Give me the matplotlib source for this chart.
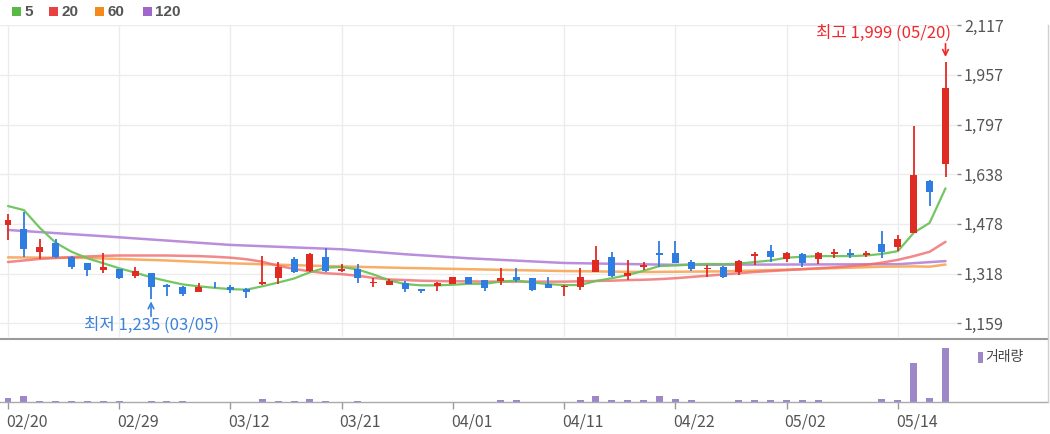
import matplotlib
matplotlib.use('Agg')
import matplotlib.pyplot as plt
from matplotlib.patches import Rectangle
from matplotlib.lines import Line2D
from matplotlib.transforms import ScaledTranslation

plt.rcParams['font.family'] = ['Noto Sans CJK KR', 'DejaVu Sans']

# ---------------- data ----------------
dates = ['02/20', '02/21', '02/22', '02/23', '02/26', '02/27', '02/28', '02/29',
         '03/04', '03/05', '03/06', '03/07', '03/08', '03/11', '03/12',
         '03/13', '03/14', '03/15', '03/18', '03/19', '03/20', '03/21',
         '03/22', '03/25', '03/26', '03/27', '03/28', '03/29', '04/01',
         '04/02', '04/03', '04/04', '04/05', '04/08', '04/09', '04/11',
         '04/12', '04/15', '04/16', '04/17', '04/18', '04/19', '04/22',
         '04/23', '04/24', '04/25', '04/26', '04/29', '04/30', '05/02',
         '05/03', '05/07', '05/08', '05/09', '05/10', '05/13', '05/14',
         '05/16', '05/17', '05/20']

opens = [1474, 1461, 1386, 1415, 1370, 1351, 1329, 1332, 1310, 1321,
         1281, 1274, 1258, 1273, 1276, 1267, 1284, 1305, 1365, 1327,
         1370, 1325, 1332, 1287, 1281, 1287, 1267, 1279, 1284, 1306,
         1297, 1295, 1308, 1303, 1284, 1274, 1276, 1324, 1370, 1310,
         1338, 1385, 1383, 1356, 1333, 1340, 1322, 1374, 1390, 1364,
         1380, 1364, 1380, 1383, 1378, 1413, 1402, 1449, 1616, 1670]
highs = [1509, 1517, 1428, 1428, 1374, 1353, 1385, 1334, 1338, 1321,
         1283, 1278, 1288, 1292, 1281, 1272, 1374, 1356, 1370, 1385,
         1399, 1348, 1348, 1303, 1299, 1295, 1269, 1292, 1306, 1306,
         1297, 1337, 1337, 1303, 1308, 1280, 1337, 1407, 1388, 1361,
         1356, 1424, 1424, 1361, 1345, 1342, 1361, 1388, 1410, 1388,
         1385, 1388, 1396, 1396, 1391, 1456, 1442, 1793, 1620, 1999]
lows = [1426, 1372, 1364, 1367, 1333, 1310, 1319, 1300, 1304, 1235,
        1246, 1246, 1258, 1270, 1254, 1240, 1282, 1284, 1321, 1324,
        1322, 1324, 1287, 1276, 1281, 1260, 1256, 1262, 1284, 1284,
        1262, 1281, 1292, 1262, 1270, 1246, 1265, 1324, 1308, 1297,
        1329, 1340, 1353, 1327, 1306, 1304, 1313, 1345, 1356, 1356,
        1338, 1348, 1367, 1367, 1370, 1367, 1391, 1449, 1536, 1627]
closes = [1490, 1397, 1404, 1372, 1340, 1329, 1338, 1303, 1325, 1276,
          1274, 1252, 1274, 1270, 1265, 1260, 1291, 1338, 1324, 1381,
          1327, 1332, 1303, 1290, 1294, 1267, 1262, 1287, 1306, 1284,
          1270, 1303, 1297, 1265, 1270, 1278, 1308, 1361, 1310, 1319,
          1345, 1378, 1353, 1332, 1337, 1306, 1359, 1380, 1372, 1383,
          1353, 1383, 1386, 1378, 1383, 1388, 1428, 1635, 1579, 1913]
volumes = [400, 570, 130, 130, 130, 130, 130, 130, 30, 130,
           130, 130, 30, 30, 30, 30, 300, 130, 130, 300,
           130, 30, 130, 30, 30, 30, 30, 30, 30, 30,
           30, 170, 170, 30, 30, 30, 170, 600, 170, 170,
           170, 600, 330, 170, 30, 30, 170, 170, 170, 170,
           170, 170, 30, 30, 30, 330, 170, 3930, 430, 5400]

ma5 = [1535, 1522, 1465, 1417, 1388, 1367, 1351, 1335, 1321, 1306,
       1294, 1283, 1277, 1272, 1268, 1266, 1277, 1289, 1302, 1322,
       1337, 1339, 1331, 1315, 1296, 1284, 1280, 1280, 1282, 1285,
       1285, 1292, 1295, 1289, 1284, 1281, 1281, 1294, 1303, 1313,
       1327, 1342, 1344, 1347, 1349, 1348, 1350, 1355, 1360, 1369,
       1372, 1374, 1374, 1374, 1376, 1381, 1390, 1449, 1481, 1592]
ma20 = [1355, 1360, 1365, 1368, 1371, 1373, 1375, 1376, 1376, 1376,
        1376, 1375, 1374, 1372, 1369, 1364, 1356, 1343, 1333, 1325,
        1319, 1316, 1311, 1304, 1299, 1297, 1295, 1294, 1293, 1293,
        1292, 1292, 1292, 1292, 1292, 1292, 1293, 1294, 1295, 1297,
        1298, 1300, 1303, 1307, 1311, 1315, 1319, 1323, 1326, 1329,
        1332, 1335, 1338, 1342, 1346, 1353, 1362, 1374, 1388, 1420]
ma60_idx = [0, 5, 10, 14, 20, 25, 29, 35, 40, 45, 50, 55, 57, 58, 59]
ma60 = [1370, 1368, 1360, 1351, 1342, 1336, 1332, 1326, 1323, 1325,
        1332, 1340, 1341, 1340, 1347]
ma120_idx = [0, 6, 14, 21, 25, 29, 35, 42, 49, 56, 59]
ma120 = [1458, 1438, 1410, 1396, 1380, 1367, 1352, 1346, 1347, 1348, 1358]

ma_labels = ['5', '20', '60', '120']
price_ticks = [1159, 1318, 1478, 1638, 1797, 1957, 2117]
volume_label = '거래량'

# ---------------- layout ----------------
W, H = 1050, 434
fig = plt.figure(figsize=(W / 100, H / 100), dpi=100)
fig.patch.set_facecolor('white')


def box(x0, y0, x1, y1):
    return [x0 / W, 1 - y1 / H, (x1 - x0) / W, (y1 - y0) / H]


STEP, X0 = 15.89, 8.0


def idx_at(px):
    return (px - X0) / STEP


ax = fig.add_axes(box(0, 25, 957, 337))
axv = fig.add_axes(box(0, 339, 1048, 402))

UP, DOWN = '#e02b22', '#2f7de1'
HI_C, LO_C = '#f0282d', '#3a82dc'
MA_COLORS = ['#6cc35a', '#f06a6a', '#f7a04a', '#b07ad6']
LEG_COLORS = ['#58b947', '#e84141', '#f28a1c', '#a066cc']

n = len(dates)
xs = list(range(n))

# moving averages
ax.plot(ma120_idx, ma120, color=MA_COLORS[3], lw=1.8, alpha=0.85, zorder=2,
        solid_capstyle='round')
ax.plot(ma60_idx, ma60, color=MA_COLORS[2], lw=1.8, alpha=0.85, zorder=2,
        solid_capstyle='round')
ax.plot(xs, ma20, color=MA_COLORS[1], lw=1.8, alpha=0.8, zorder=2,
        solid_capstyle='round')
ax.plot(xs, ma5, color=MA_COLORS[0], lw=1.6, alpha=0.95, zorder=3,
        solid_capstyle='round')

# candles
for i in xs:
    o, h, l, c = opens[i], highs[i], lows[i], closes[i]
    col = UP if c >= o else DOWN
    ax.vlines(i, l, h, color=col, lw=1.3, zorder=4)
    ax.bar(i, max(abs(c - o), 2.5), bottom=min(o, c), width=0.44,
           color=col, linewidth=0, zorder=5)

# high / low annotations
hi_i = highs.index(max(highs))
lo_i = lows.index(min(lows))
ax.annotate('', xy=(hi_i, highs[hi_i]), xytext=(0, 18), textcoords='offset pixels',
            arrowprops=dict(arrowstyle='->', color=HI_C, lw=1.2,
                            shrinkA=0, shrinkB=3.4))
ax.annotate(f'최고 {highs[hi_i]:,} ({dates[hi_i]})', xy=(hi_i, highs[hi_i]),
            xytext=(5, 28), textcoords='offset pixels', ha='right', va='center',
            color=HI_C, fontsize=12)
ax.annotate('', xy=(lo_i, lows[lo_i]), xytext=(0, -17), textcoords='offset pixels',
            arrowprops=dict(arrowstyle='->', color=LO_C, lw=1.2,
                            shrinkA=0, shrinkB=1.4))
ax.annotate(f'최저 {lows[lo_i]:,} ({dates[lo_i]})', xy=(lo_i, lows[lo_i]),
            xytext=(0, -26), textcoords='offset pixels', ha='center', va='center',
            color=LO_C, fontsize=12)

ax.set_xlim(idx_at(0), idx_at(957))
ax.set_ylim(1114, 2117)
ax.set_yticks(price_ticks)
ax.set_yticklabels([f'{p:,}' for p in price_ticks])
ax.yaxis.tick_right()
ax.tick_params(axis='y', length=3, width=1, color='#888', labelcolor='#555',
               labelsize=11.5, pad=2)
ax.set_xticks(xs[::7])
ax.tick_params(axis='x', length=0, labelbottom=False)
ax.grid(True, color='#ececec', lw=1)
ax.set_axisbelow(True)
for s in ax.spines.values():
    s.set_visible(False)

# volume
axv.bar(xs, volumes, width=0.44, color='#9d87c9', linewidth=0)
axv.set_xlim(idx_at(0), idx_at(1048))
axv.set_ylim(0, 6300)
axv.set_yticks([])
axv.set_xticks(xs[::7])
axv.set_xticklabels(dates[::7])
axv.tick_params(axis='x', length=5, width=1, color='#999', labelcolor='#555',
                labelsize=11.5, pad=3)
shift = ScaledTranslation(-2 / 100, 0, fig.dpi_scale_trans)
for lbl in axv.get_xticklabels():
    lbl.set_horizontalalignment('left')
    lbl.set_transform(lbl.get_transform() + shift)
for k, s in axv.spines.items():
    s.set_visible(k == 'bottom')
axv.spines['bottom'].set_color('#aaaaaa')
axv.spines['bottom'].set_linewidth(1)

# borders
fig.add_artist(Line2D([0, 1048 / W], [1 - 338.5 / H] * 2, color='#9a9a9a', lw=1.5))
fig.add_artist(Line2D([1048 / W] * 2, [1 - 25 / H, 1 - 402 / H], color='#cfcfcf', lw=1))

# MA legend
for lab, col, x in zip(ma_labels, LEG_COLORS, [12, 49, 95, 143]):
    fig.add_artist(Rectangle((x / W, 1 - 16 / H), 9 / W, 9 / H,
                             transform=fig.transFigure, color=col, lw=0))
    fig.text((x + 12) / W, 1 - 11.5 / H, lab, ha='left', va='center',
             fontsize=11, fontweight='bold', color='#555555',
             family=['Liberation Sans', 'DejaVu Sans'])

# volume legend
fig.add_artist(Rectangle((978 / W, 1 - 363 / H), 5 / W, 11 / H,
                         transform=fig.transFigure, color='#9d87c9', lw=0))
fig.text(985 / W, 1 - 357.5 / H, volume_label, ha='left', va='center',
         fontsize=10, color='#444444')

fig.savefig('out.png', dpi=100, facecolor='white')
